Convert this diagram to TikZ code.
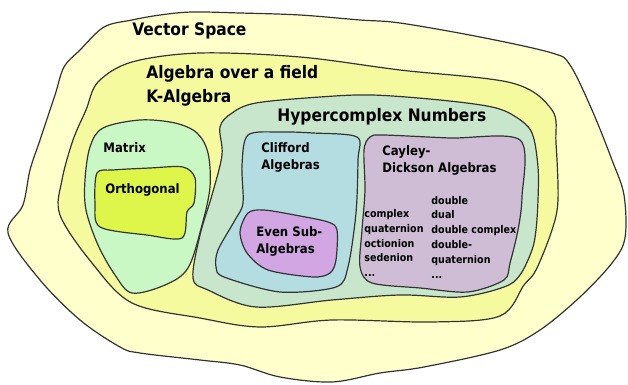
\documentclass[tikz,border=0pt]{standalone}
\usepackage{fontspec}
\setmainfont{DejaVu Sans Condensed}
\definecolor{cvec}{HTML}{FFFFCC}
\definecolor{calg}{HTML}{F5FA9F}
\definecolor{cmat}{HTML}{C9F8C5}
\definecolor{corth}{HTML}{DEF64A}
\definecolor{chyp}{HTML}{C8E6CC}
\definecolor{cclf}{HTML}{B4DDE1}
\definecolor{cevn}{HTML}{D1A6E3}
\definecolor{ccay}{HTML}{CFBCD5}
\tikzset{
  blob/.style={draw=black!80, line width=0.6pt},
  biglbl/.style={anchor=west, inner sep=0pt, align=left, font=\bfseries\fontsize{8.6}{12}\selectfont},
  midlbl/.style={anchor=west, inner sep=0pt, align=left, font=\bfseries\fontsize{6.5}{8.5}\selectfont},
  smalllbl/.style={anchor=west, inner sep=0pt, align=left, font=\bfseries\fontsize{5.3}{7.4}\selectfont},
}

\begin{document}
\begin{tikzpicture}[x=0.5pt, y=-0.5pt]
  \useasboundingbox (0,0) rectangle (628,385);
  \path[blob, fill=cvec] plot[smooth cycle, tension=0.55] coordinates {
    (8,233) (23,205) (30,170) (40,140) (55,95) (64,67) (80,50) (104,27) (132,20) (160,15)
    (192,12) (240,13) (300,15) (360,20) (400,23) (480,37) (552,53) (570,65) (592,110)
    (612,160) (624,195) (625,238) (612,263) (580,297) (540,330) (500,350) (424,367)
    (380,373) (332,382) (280,377) (240,365) (200,360) (140,353) (120,347) (80,320) (40,280)};
  \path[blob, fill=calg] plot[smooth cycle, tension=0.55] coordinates {
    (60,215) (62,180) (73,140) (86,110) (98,82) (132,62) (200,53) (300,57) (400,70)
    (512,83) (552,110) (556,143) (558,200) (552,230) (536,270) (524,285) (500,316)
    (432,322) (332,320) (260,327) (200,318) (132,303) (92,263)};
  \path[blob, fill=cmat] plot[smooth cycle, tension=0.55] coordinates {
    (90,147) (103,128) (140,120) (175,123) (197,133) (208,153) (210,187) (202,225)
    (188,268) (165,285) (132,293) (115,275) (98,245) (86,210) (85,180)};
  \path[blob, fill=corth] plot[smooth cycle, tension=0.5] coordinates {
    (97,173) (113,170) (150,168) (183,167) (195,178) (194,203) (187,212) (182,238)
    (147,235) (100,227) (95,203)};
  \path[blob, fill=chyp] plot[smooth cycle, tension=0.55] coordinates {
    (220,127) (232,113) (256,103) (320,97) (372,95) (440,100) (492,107) (516,117)
    (532,133) (538,167) (538,200) (536,230) (532,250) (520,275) (504,287) (460,297)
    (400,295) (332,300) (256,307) (208,290) (193,278) (200,235) (212,195) (222,155)};
  \path[blob, fill=cclf] plot[smooth cycle, tension=0.5] coordinates {
    (248,135) (280,132) (313,133) (357,137) (358,160) (356,213) (348,267) (336,287)
    (280,292) (224,277) (216,267) (218,250) (235,220) (243,203) (242,165)};
  \path[blob, fill=cevn] plot[smooth cycle, tension=0.5] coordinates {
    (248,213) (264,210) (300,216) (328,222) (337,230) (336,260) (330,273) (313,277)
    (268,270) (247,253) (240,232)};
  \path[blob, fill=ccay] plot[smooth cycle, tension=0.5] coordinates {
    (370,137) (383,135) (450,138) (520,140) (522,197) (518,230) (510,263) (504,280)
    (468,292) (420,288) (372,283) (360,267) (362,230) (365,190) (364,150)};

  \node[biglbl] (vec) at (132,31) {Vector Space};
  \node[biglbl] (alg) at (146,86) {Algebra over a field\\K-Algebra};
  \node[biglbl] (hyp) at (277,117) {Hypercomplex Numbers};
  \node[midlbl] (mat) at (103,148) {Matrix};
  \node[midlbl] (orth) at (105,190) {Orthogonal};
  \node[midlbl] (clf) at (261,157) {Clifford\\Algebras};
  \node[midlbl] (cay) at (382,160) {Cayley-\\Dickson Algebras};
  \node[midlbl] (evn) at (256,241) {Even Sub-\\Algebras};
  \node[smalllbl] (cdl) at (364,243) {complex\\quaternion\\octionion\\sedenion\\...};
  \node[smalllbl] (cdr) at (431,237) {double\\dual\\double complex\\double-\\quaternion\\...};
\end{tikzpicture}
\end{document}
